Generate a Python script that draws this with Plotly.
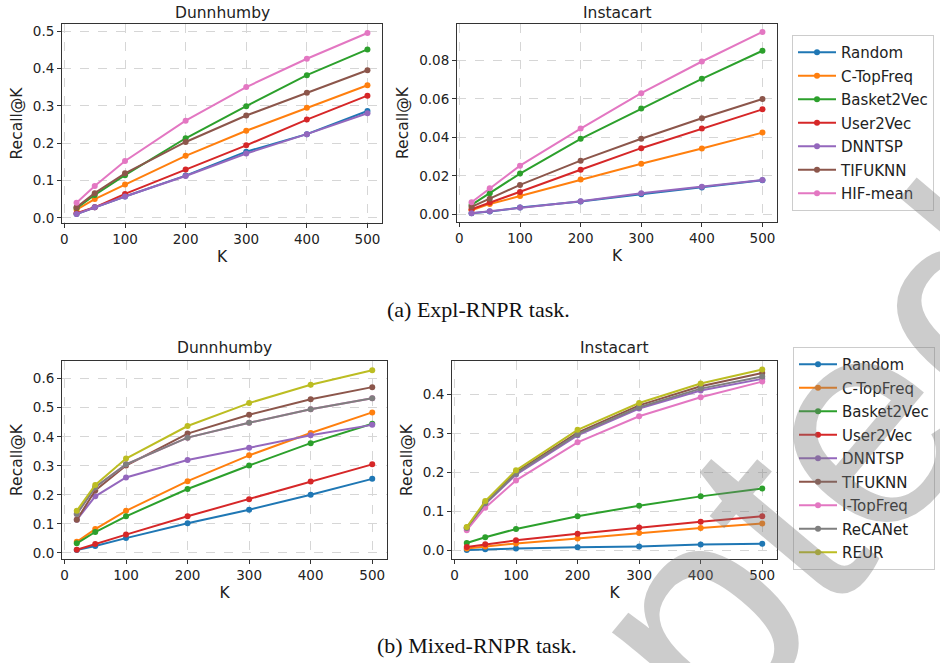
import plotly.graph_objects as go

K = [20, 50, 100, 200, 300, 400, 500]

# (a) Expl-RNPR task
expl_methods = ["Random", "C-TopFreq", "Basket2Vec", "User2Vec", "DNNTSP", "TIFUKNN", "HIF-mean"]
expl_dunn = {
    "Random":     [0.010, 0.028, 0.057, 0.113, 0.177, 0.224, 0.286],
    "C-TopFreq":  [0.022, 0.050, 0.089, 0.166, 0.233, 0.295, 0.355],
    "Basket2Vec": [0.026, 0.061, 0.114, 0.213, 0.299, 0.382, 0.451],
    "User2Vec":   [0.012, 0.028, 0.064, 0.129, 0.194, 0.263, 0.327],
    "DNNTSP":     [0.010, 0.028, 0.057, 0.112, 0.172, 0.224, 0.280],
    "TIFUKNN":    [0.028, 0.066, 0.119, 0.203, 0.274, 0.335, 0.395],
    "HIF-mean":   [0.040, 0.085, 0.152, 0.260, 0.350, 0.426, 0.495],
}
expl_insta = {
    "Random":     [0.0005, 0.0014, 0.0035, 0.0067, 0.0104, 0.0140, 0.0177],
    "C-TopFreq":  [0.0021, 0.0054, 0.0095, 0.0181, 0.0263, 0.0342, 0.0425],
    "Basket2Vec": [0.0049, 0.0109, 0.0212, 0.0393, 0.0551, 0.0705, 0.0851],
    "User2Vec":   [0.0026, 0.0061, 0.0116, 0.0232, 0.0344, 0.0447, 0.0546],
    "DNNTSP":     [0.0005, 0.0016, 0.0035, 0.0068, 0.0109, 0.0144, 0.0179],
    "TIFUKNN":    [0.0039, 0.0081, 0.0153, 0.0279, 0.0393, 0.0500, 0.0600],
    "HIF-mean":   [0.0063, 0.0135, 0.0253, 0.0446, 0.0630, 0.0795, 0.0949],
}

# (b) Mixed-RNPR task
mixed_methods = ["Random", "C-TopFreq", "Basket2Vec", "User2Vec", "DNNTSP", "TIFUKNN",
                 "I-TopFreq", "ReCANet", "REUR"]
mixed_dunn = {
    "Random":     [0.010, 0.024, 0.051, 0.102, 0.149, 0.200, 0.255],
    "C-TopFreq":  [0.038, 0.082, 0.145, 0.247, 0.336, 0.413, 0.484],
    "Basket2Vec": [0.033, 0.072, 0.126, 0.220, 0.301, 0.378, 0.445],
    "User2Vec":   [0.011, 0.031, 0.063, 0.126, 0.185, 0.246, 0.305],
    "DNNTSP":     [0.114, 0.195, 0.260, 0.320, 0.362, 0.405, 0.441],
    "TIFUKNN":    [0.114, 0.215, 0.301, 0.411, 0.476, 0.529, 0.571],
    "I-TopFreq":  [0.134, 0.226, 0.305, 0.397, 0.448, 0.495, 0.533],
    "ReCANet":    [0.134, 0.226, 0.305, 0.397, 0.448, 0.495, 0.533],
    "REUR":       [0.145, 0.234, 0.325, 0.437, 0.516, 0.579, 0.629],
}
mixed_insta = {
    "Random":     [0.000, 0.002, 0.004, 0.007, 0.009, 0.014, 0.016],
    "C-TopFreq":  [0.004, 0.009, 0.017, 0.030, 0.044, 0.057, 0.068],
    "Basket2Vec": [0.018, 0.033, 0.054, 0.087, 0.114, 0.138, 0.158],
    "User2Vec":   [0.008, 0.015, 0.025, 0.042, 0.058, 0.073, 0.087],
    "DNNTSP":     [0.056, 0.118, 0.194, 0.295, 0.364, 0.410, 0.440],
    "TIFUKNN":    [0.058, 0.121, 0.200, 0.302, 0.372, 0.421, 0.455],
    "I-TopFreq":  [0.051, 0.109, 0.179, 0.277, 0.344, 0.393, 0.433],
    "ReCANet":    [0.057, 0.120, 0.197, 0.298, 0.367, 0.415, 0.446],
    "REUR":       [0.059, 0.126, 0.205, 0.309, 0.378, 0.428, 0.464],
}

colors = {
    "Random": "#1f77b4", "C-TopFreq": "#ff7f0e", "Basket2Vec": "#2ca02c",
    "User2Vec": "#d62728", "DNNTSP": "#9467bd", "TIFUKNN": "#8c564b",
    "HIF-mean": "#e377c2", "I-TopFreq": "#e377c2", "ReCANet": "#7f7f7f",
    "REUR": "#bcbd22",
}

W, H = 940, 663
fig = go.Figure()


def add_panel(data, methods, xa, ya, legend, show, prefix):
    for m in methods:
        fig.add_trace(go.Scatter(
            x=K, y=data[m], name=m, mode="lines+markers",
            line=dict(color=colors[m], width=2),
            marker=dict(color=colors[m], size=6),
            xaxis=xa, yaxis=ya, legend=legend, showlegend=show,
            legendgroup=prefix + m,
        ))


add_panel(expl_dunn, expl_methods, "x", "y", "legend", True, "a_")
add_panel(expl_insta, expl_methods, "x2", "y2", "legend", False, "a_")
add_panel(mixed_dunn, mixed_methods, "x3", "y3", "legend2", True, "b_")
add_panel(mixed_insta, mixed_methods, "x4", "y4", "legend2", False, "b_")


def px_x(a, b):
    return [a / W, b / W]


def px_y(top, bottom):
    return [1 - bottom / H, 1 - top / H]


axis_common = dict(
    showline=True, linecolor="#333333", linewidth=1, mirror=True,
    ticks="outside", ticklen=4, tickcolor="#333333",
    showgrid=True, gridcolor="#d6d6d6", griddash="dash", gridwidth=1,
    zeroline=False, tickfont=dict(family="DejaVu Sans", size=13.5, color="#222"),
    automargin=False,
)
xtitle = dict(text="K", font=dict(family="DejaVu Sans", size=15.5, color="#222"), standoff=4)
ytitle = dict(text="Recall@K", font=dict(family="DejaVu Sans", size=15.5, color="#222"), standoff=6)

fig.update_layout(
    xaxis=dict(domain=px_x(62, 382), range=[-4, 524], dtick=100, anchor="y", title=xtitle, **axis_common),
    yaxis=dict(domain=px_y(24, 223), range=[-0.014, 0.519], dtick=0.1, tickformat=".1f", anchor="x", title=ytitle, **axis_common),
    xaxis2=dict(domain=px_x(457, 777), range=[-4, 524], dtick=100, anchor="y2", title=xtitle, **axis_common),
    yaxis2=dict(domain=px_y(24, 222), range=[-0.004, 0.099], dtick=0.02, tickformat=".2f", anchor="x2", title=ytitle, **axis_common),
    xaxis3=dict(domain=px_x(62, 387), range=[-4, 524], dtick=100, anchor="y3", title=xtitle, **axis_common),
    yaxis3=dict(domain=px_y(361, 559), range=[-0.021, 0.661], dtick=0.1, tickformat=".1f", anchor="x3", title=ytitle, **axis_common),
    xaxis4=dict(domain=px_x(452, 777), range=[-4, 524], dtick=100, anchor="y4", title=xtitle, **axis_common),
    yaxis4=dict(domain=px_y(361, 559), range=[-0.023, 0.486], dtick=0.1, tickformat=".1f", anchor="x4", title=ytitle, **axis_common),
)

legend_common = dict(
    xanchor="left", yanchor="top", bgcolor="rgba(255,255,255,0.8)",
    bordercolor="#cccccc", borderwidth=1,
    font=dict(family="DejaVu Sans", size=15, color="#222"),
    tracegroupgap=1, itemwidth=38,
)
fig.update_layout(
    legend=dict(x=792 / W, y=1 - 35 / H, **legend_common),
    legend2=dict(x=793 / W, y=1 - 347 / H, **legend_common),
)

annotations = []
titles = [("Dunnhumby", 222, 12.5), ("Instacart", 617, 12.5),
          ("Dunnhumby", 224.5, 348), ("Instacart", 614.5, 348)]
for t, cx, cy in titles:
    annotations.append(dict(text=t, x=cx / W, y=1 - cy / H, xref="paper", yref="paper",
                            xanchor="center", yanchor="middle", showarrow=False,
                            font=dict(family="DejaVu Sans", size=15.5, color="#222")))
captions = [("(a) Expl-RNPR task.", 478, 309), ("(b) Mixed-RNPR task.", 477, 645)]
for t, cx, cy in captions:
    annotations.append(dict(text=t, x=cx / W, y=1 - cy / H, xref="paper", yref="paper",
                            xanchor="center", yanchor="middle", showarrow=False,
                            font=dict(family="Liberation Serif", size=22, color="#111")))
# watermark
annotations.append(dict(text="Accepted", x=615 / W, y=1 - 715 / H, xref="paper", yref="paper",
                        xanchor="center", yanchor="middle", showarrow=False, textangle=-50,
                        font=dict(family="Liberation Sans", size=300, color="rgba(120,120,120,0.38)")))
fig.update_layout(annotations=annotations)

fig.update_layout(
    width=W, height=H, margin=dict(l=0, r=0, t=0, b=0),
    paper_bgcolor="white", plot_bgcolor="white",
)

fig.write_html("out.html", config={"displayModeBar": False},
               post_script="document.body.style.margin='0px';")
